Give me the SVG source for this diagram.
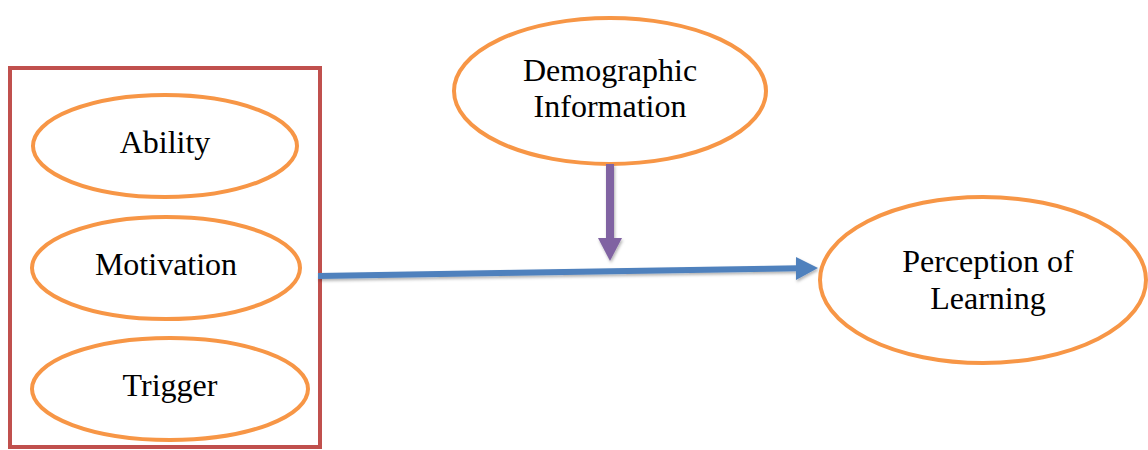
<svg xmlns="http://www.w3.org/2000/svg" width="1148" height="450" viewBox="0 0 1148 450">
<style>
.node{fill:#fff;stroke:#F79646;stroke-width:4}
.lbl{font-family:"Liberation Serif","Times New Roman",serif;font-size:32px;fill:#000;text-anchor:middle}
</style>
<defs>
<filter id="sh" x="-10%" y="-50%" width="120%" height="200%"><feDropShadow dx="1" dy="2" stdDeviation="1.5" flood-color="#000" flood-opacity="0.3"/></filter>
</defs>
<rect width="1148" height="450" fill="#fff"/>
<g id="group-box"><rect x="10" y="68" width="310" height="379" fill="none" stroke="#C0504D" stroke-width="4"/></g>
<g id="ability"><ellipse class="node" cx="165" cy="146" rx="132" ry="51"/><text class="lbl" x="165" y="153">Ability</text></g>
<g id="motivation"><ellipse class="node" cx="166" cy="268" rx="134" ry="51"/><text class="lbl" x="166" y="275">Motivation</text></g>
<g id="trigger"><ellipse class="node" cx="170" cy="389" rx="138" ry="51"/><text class="lbl" x="170" y="396">Trigger</text></g>
<g id="demographic"><ellipse class="node" cx="610" cy="91" rx="156" ry="73"/><text class="lbl" x="610" y="81">Demographic</text><text class="lbl" x="610" y="117">Information</text></g>
<g id="perception"><ellipse class="node" cx="983" cy="280" rx="163" ry="83"/><text class="lbl" x="988" y="272">Perception of</text><text class="lbl" x="988" y="309">Learning</text></g>
<g id="connectors" filter="url(#sh)">
<path d="M318,276 L798,268.2" stroke="#4F81BD" stroke-width="6" fill="none"/>
<polygon points="796,257 818,268 796,280" fill="#4F81BD"/>
<rect x="606" y="164" width="8" height="75" fill="#8064A2"/>
<polygon points="598,238 622,238 610,261" fill="#8064A2"/>
</g>
</svg>
